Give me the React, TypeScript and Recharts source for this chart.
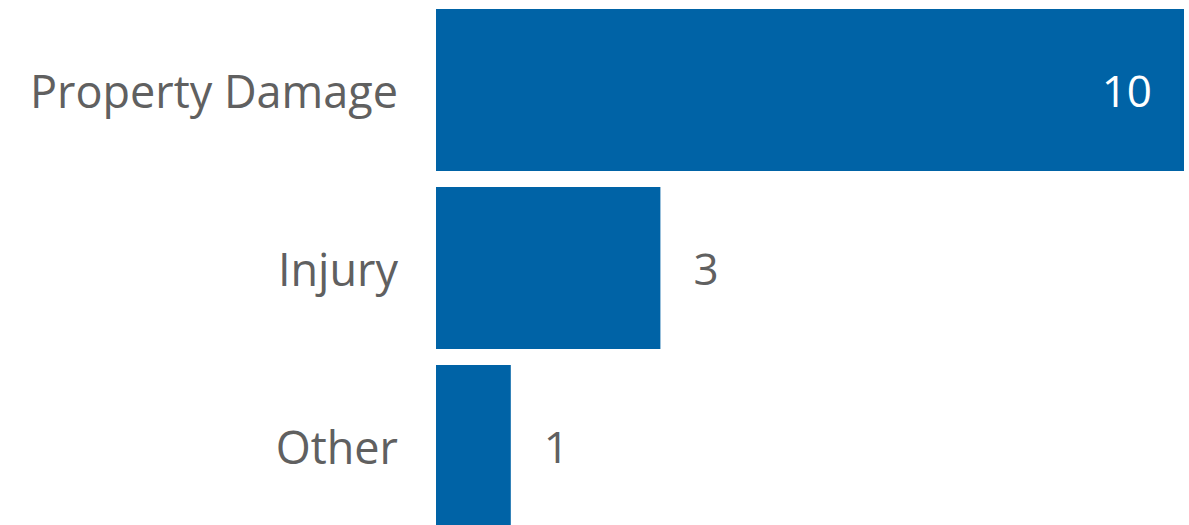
import React from 'react';
import { BarChart, Bar, XAxis, YAxis, LabelList } from 'recharts';

const categories = ['Property Damage', 'Injury', 'Other'];
const counts = [10, 3, 1];
const data = categories.map((name, i) => ({ name, value: counts[i] }));

const BAR = '#0063A6';
const TEXT = '#606060';
const FONT = '"Open Sans", "Noto Sans", sans-serif';
const SIZE = 44;
const CAT_SIZE = 45;
const maxVal = Math.max(...counts);

const ValueLabel = (props: any) => {
  const { x, y, width, height, value } = props;
  const inside = value === maxVal;
  const tx = inside ? x + width - 32 : x + width + 33;
  return (
    <text
      x={tx}
      y={y + height / 2}
      textAnchor={inside ? 'end' : 'start'}
      dominantBaseline="central"
      fill={inside ? '#ffffff' : TEXT}
      fontSize={SIZE}
      fontFamily={FONT}
    >
      {value}
    </text>
  );
};

const CatTick = (props: any) => {
  const { y, payload } = props;
  return (
    <text
      x={398}
      y={y}
      textAnchor="end"
      dominantBaseline="central"
      fill={TEXT}
      fontSize={CAT_SIZE}
      fontFamily={FONT}
    >
      {payload.value}
    </text>
  );
};

export default function App() {
  return (
    <div style={{ position: 'absolute', left: 0, top: 0, background: '#fff' }}>
      <BarChart
        width={1189}
        height={535}
        data={data}
        layout="vertical"
        margin={{ top: 1, right: 5, bottom: 0, left: 0 }}
        barCategoryGap={8}
      >
        <XAxis type="number" domain={[0, 10]} hide />
        <YAxis
          type="category"
          dataKey="name"
          width={436}
          axisLine={false}
          tickLine={false}
          tick={<CatTick />}
        />
        <Bar dataKey="value" fill={BAR} isAnimationActive={false}>
          <LabelList dataKey="value" content={<ValueLabel />} />
        </Bar>
      </BarChart>
    </div>
  );
}
